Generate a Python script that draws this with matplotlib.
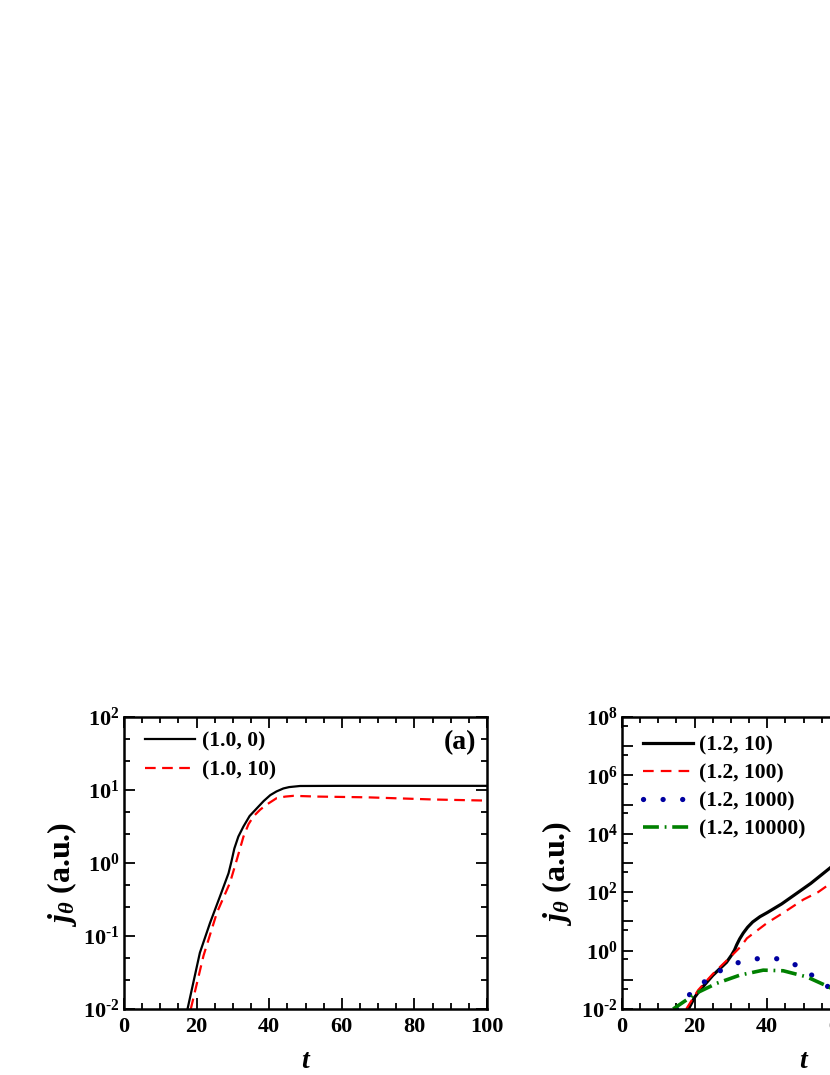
import matplotlib
matplotlib.use("Agg")
import matplotlib.pyplot as plt
from matplotlib.ticker import FixedLocator, MultipleLocator, NullFormatter
from matplotlib.lines import Line2D

# ---------------- data ----------------
# panel (a)
t_a_10_0 = [17.5, 20.9, 23.7, 26.5, 28.8, 29.6, 30.4, 31.5, 32.9, 34.6, 36.6, 38.5, 40.3, 42.0, 43.9, 45.5, 48.5, 60, 80, 100]
j_a_10_0 = [0.01, 0.0589, 0.151, 0.355, 0.724, 1.05, 1.58, 2.3, 3.16, 4.4, 5.62, 7.08, 8.51, 9.55, 10.5, 10.96, 11.35, 11.4, 11.4, 11.4]

t_a_10_10 = [18.4, 21.9, 25.6, 29.2, 31.1, 32.9, 34.3, 35.7, 37.5, 39.3, 42.1, 44.5, 46.7, 53.1, 66.9, 85.3, 100]
j_a_10_10 = [0.01, 0.0537, 0.209, 0.537, 1.12, 2.29, 3.4, 4.37, 5.37, 6.31, 7.76, 8.13, 8.32, 8.13, 7.94, 7.41, 7.16]

# panel (b)
t_b_12_10 = [18.3, 20.0, 21.5, 25.0, 28.8, 30.2, 31.0, 31.6, 32.4, 33.4, 34.6, 36.0, 38.0, 40.0, 44.0, 48.0, 52.0, 56.0, 58.0]
j_b_12_10 = [0.01, 0.0251, 0.0447, 0.141, 0.398, 0.708, 1.05, 1.58, 2.5, 3.98, 6.3, 9.55, 14.5, 20.0, 39.8, 89.1, 200, 501, 794]

t_b_12_100 = [17.7, 21.0, 25.0, 30.0, 32.8, 34.4, 36.5, 40.0, 44.5, 50.0, 54.0, 58.0]
j_b_12_100 = [0.01, 0.0447, 0.158, 0.631, 1.41, 2.63, 4.17, 8.91, 19.95, 56.2, 100, 224]

t_b_12_1000 = [15.0, 16.0, 21.0, 25.6, 31.1, 36.2, 41.0, 46.0, 50.9, 55.9, 58.0]
j_b_12_1000 = [0.01, 0.0158, 0.0575, 0.166, 0.363, 0.513, 0.575, 0.437, 0.191, 0.0692, 0.0447]

t_b_12_10000 = [14.1, 20.6, 26.1, 32.5, 38.9, 44.4, 50.9, 56.4, 58.0]
j_b_12_10000 = [0.01, 0.0355, 0.0759, 0.145, 0.214, 0.204, 0.126, 0.0617, 0.0479]

labels_a = ["(1.0, 0)", "(1.0, 10)"]
labels_b = ["(1.2, 10)", "(1.2, 100)", "(1.2, 1000)", "(1.2, 10000)"]

x_ticks = [0, 20, 40, 60, 80, 100]
y_exp_a = [-2, -1, 0, 1, 2]
y_exp_b = [-2, -1, 0, 1, 2, 3, 4, 5, 6, 7, 8]

# ---------------- style ----------------
plt.rcParams.update({
    "font.family": ["Liberation Serif", "DejaVu Serif"],
    "font.weight": "bold",
    "mathtext.fontset": "custom",
    "mathtext.rm": "Liberation Serif:weight=bold",
    "mathtext.bf": "Liberation Serif:weight=bold",
    "mathtext.it": "Liberation Serif:style=italic:weight=bold",
})

W, H = 830, 1075
fig = plt.figure(figsize=(W / 100, H / 100), dpi=100)

def px_axes(left, top, right, bottom):
    return [left / W, (H - bottom) / H, (right - left) / W, (bottom - top) / H]

axA = fig.add_axes(px_axes(124, 717, 487, 1009))
axB = fig.add_axes(px_axes(622, 717, 985, 1009))

TICK_FS = 16

def exp_label(e):
    if e < 0:
        return r"$10^{\text{-}%d}$" % (-e)
    return r"$10^{%d}$" % e

def style(ax, exps, labelled, minors):
    for s in ax.spines.values():
        s.set_linewidth(1.8)
    ax.set_xlim(0, 100)
    ax.set_yscale("log")
    ax.set_ylim(10.0 ** exps[0], 10.0 ** exps[-1])
    ax.xaxis.set_major_locator(FixedLocator(x_ticks))
    ax.xaxis.set_minor_locator(MultipleLocator(5))
    ax.set_xticklabels([str(v) for v in x_ticks])
    ax.yaxis.set_major_locator(FixedLocator([10.0 ** e for e in exps]))
    ax.yaxis.set_minor_locator(FixedLocator(minors))
    ax.yaxis.set_minor_formatter(NullFormatter())
    ax.set_yticklabels([exp_label(e) if e in labelled else "" for e in exps])
    ax.tick_params(which="both", direction="in", top=True, right=True, width=1.3)
    ax.tick_params(which="major", length=8)
    ax.tick_params(which="minor", length=4.5)
    ax.tick_params(axis="x", which="major", labelsize=TICK_FS, pad=6)
    ax.tick_params(axis="y", which="major", labelsize=TICK_FS, pad=3)
    for lab in ax.get_xticklabels() + ax.get_yticklabels():
        lab.set_fontweight("bold")
    ax.set_xlabel("t", fontsize=20, fontstyle="italic", fontweight="bold")
    ax.xaxis.label.set_va("baseline")
    ax.xaxis.set_label_coords(0.5, -(1068.5 - 1009) / 292)
    ax.set_ylabel(r"$j_{\theta}$ (a.u.)", fontsize=23, fontweight="bold")
    ax.yaxis.label.set_va("center")

# panel (a)
minors_a = []
for e in y_exp_a[:-1]:
    minors_a += [2.5 * 10.0 ** e, 5 * 10.0 ** e]
style(axA, y_exp_a, y_exp_a, minors_a)
axA.yaxis.set_label_coords(-62 / 363, 0.46)

axA.plot(t_a_10_0, j_a_10_0, color="black", lw=1.6, solid_joinstyle="round")
axA.plot(t_a_10_10, j_a_10_10, color="#ff0000", lw=1.6, linestyle=(0, (4.8, 2.9)))
hA = [Line2D([], [], color="black", lw=1.6),
      Line2D([], [], color="#ff0000", lw=1.6, linestyle=(0, (4.8, 2.9)))]
axA.legend(hA, labels_a, loc="upper left", bbox_to_anchor=(21 / 363, 1 - 14 / 292),
           frameon=False, borderpad=0, borderaxespad=0, handlelength=2.3,
           handletextpad=0.35, labelspacing=0.42, prop={"weight": "bold", "size": 15.5})
axA.text(0.926, 0.914, "(a)", transform=axA.transAxes, ha="center", va="center",
         fontsize=20, fontweight="bold")

# panel (b)
minors_b = [5 * 10.0 ** e for e in y_exp_b[:-1]]
style(axB, y_exp_b, [e for e in y_exp_b if e % 2 == 0], minors_b)
axB.yaxis.set_label_coords(-65 / 363, 0.466)

ls_red = (0, (4.8, 3.2))
ls_blue = (0, (0.01, 3.7))
ls_green = (0, (4.4, 1.6, 0.5, 1.6))
axB.plot(t_b_12_10, j_b_12_10, color="black", lw=2.3, solid_joinstyle="round")
axB.plot(t_b_12_100, j_b_12_100, color="#ff0000", lw=1.6, linestyle=ls_red)
axB.plot(t_b_12_1000, j_b_12_1000, color="#0000a0", lw=3.8, linestyle=ls_blue,
         dash_capstyle="round")
axB.plot(t_b_12_10000, j_b_12_10000, color="#008000", lw=2.6, linestyle=ls_green)
hB = [Line2D([], [], color="black", lw=2.3),
      Line2D([], [], color="#ff0000", lw=1.6, linestyle=ls_red),
      Line2D([], [], color="#0000a0", lw=3.8, linestyle=ls_blue, dash_capstyle="round"),
      Line2D([], [], color="#008000", lw=2.6, linestyle=ls_green)]
axB.legend(hB, labels_b, loc="upper left", bbox_to_anchor=(21 / 363, 1 - 18 / 292),
           frameon=False, borderpad=0, borderaxespad=0, handlelength=2.3,
           handletextpad=0.3, labelspacing=0.38, prop={"weight": "bold", "size": 15.5})

fig.savefig("out.png", dpi=100)
